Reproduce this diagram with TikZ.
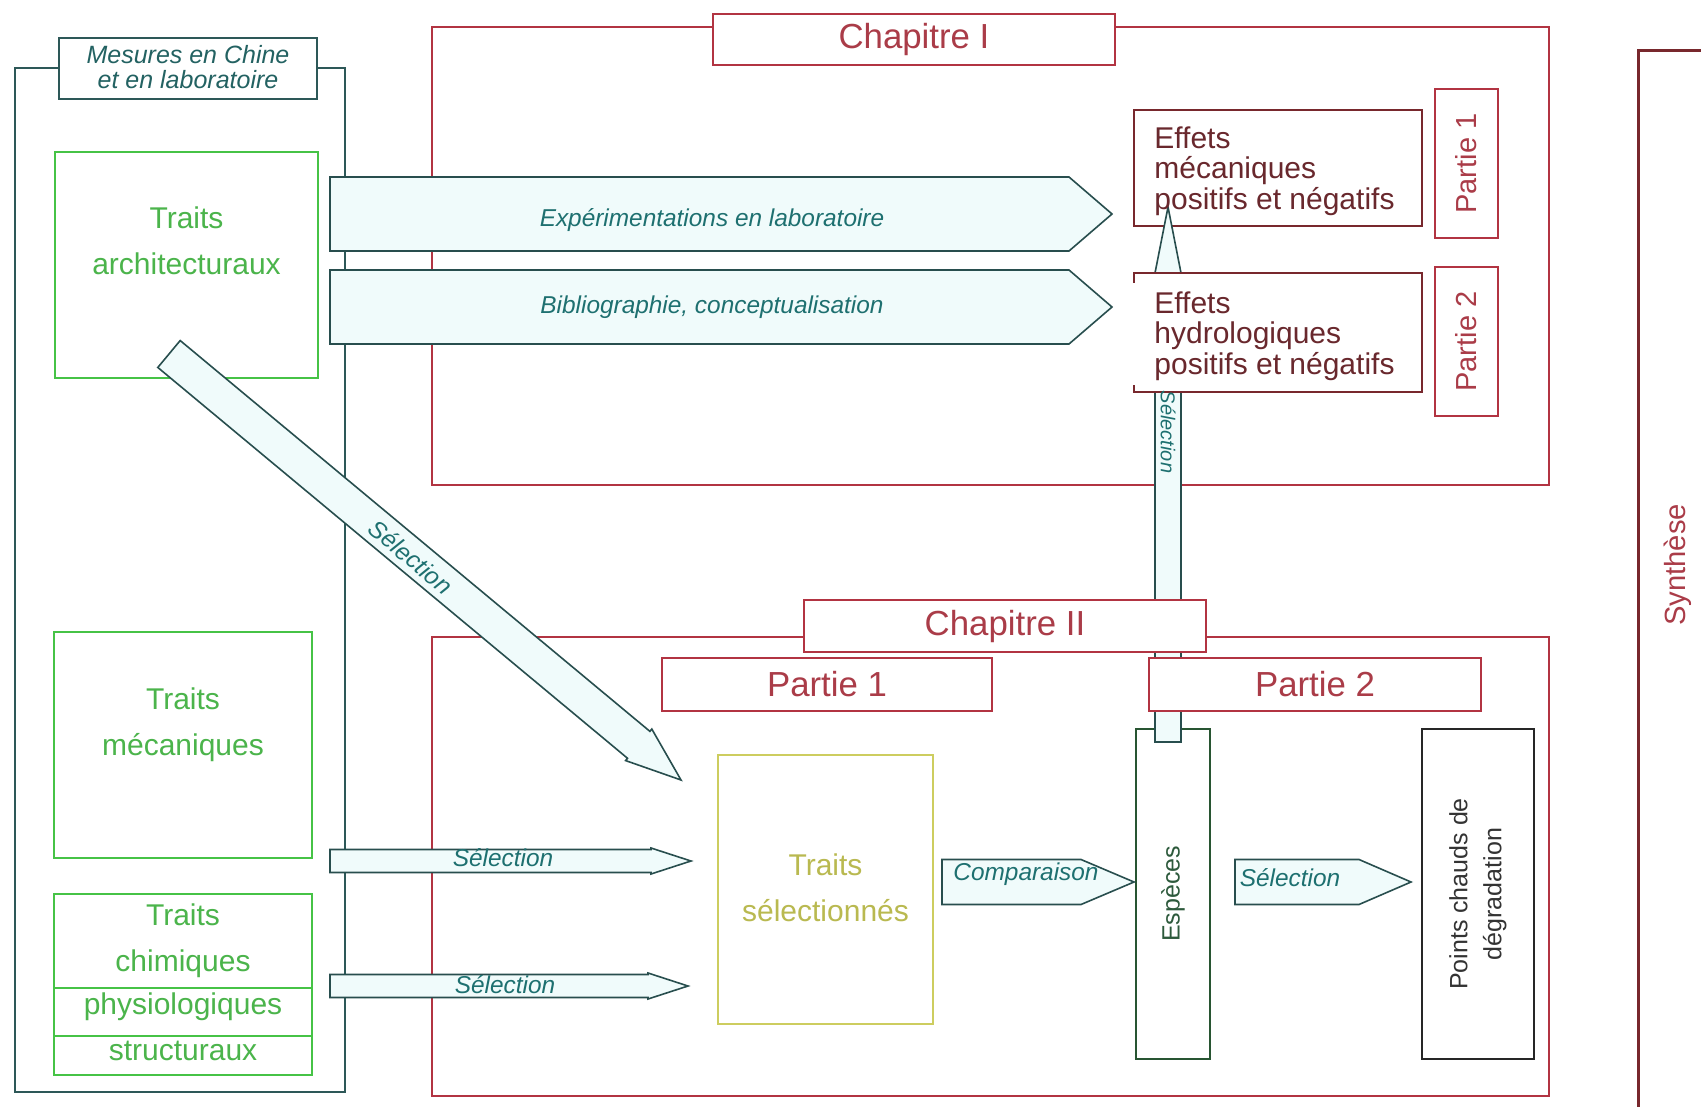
\documentclass[tikz,border=0pt]{standalone}
\usepackage{fontspec}
\setmainfont{Liberation Sans}
\usetikzlibrary{calc,fit}

\definecolor{mesteal}{RGB}{45,88,88}
\definecolor{mestxt}{RGB}{35,98,98}
\definecolor{arrline}{RGB}{40,78,78}
\definecolor{arrfill}{RGB}{240,251,251}
\definecolor{arrtext}{RGB}{30,112,112}
\definecolor{chapred}{RGB}{178,52,66}
\definecolor{chaptext}{RGB}{170,60,72}
\definecolor{effred}{RGB}{120,40,45}
\definecolor{efftxt}{RGB}{105,40,45}
\definecolor{traitgreen}{RGB}{70,195,70}
\definecolor{traittxt}{RGB}{75,180,75}
\definecolor{selolive}{RGB}{205,205,95}
\definecolor{seltxt}{RGB}{185,185,80}
\definecolor{espgreen}{RGB}{40,85,50}
\definecolor{esptxt}{RGB}{45,90,60}

\tikzset{boxline/.style={draw, line width=1pt, inner sep=0pt}}
\tikzset{mesbox/.style={boxline, draw=mesteal}}
\tikzset{chapbox/.style={boxline, draw=chapred, line width=1.2pt}}
\tikzset{chaplabel/.style={chapbox, fill=white, text=chaptext,
                           font=\fontsize{17.4}{20}\selectfont}}
\tikzset{partlabel/.style={chaplabel, font=\fontsize{14.5}{17}\selectfont}}
\tikzset{traitbox/.style={boxline, draw=traitgreen, line width=1.1pt}}
\tikzset{traittext/.style={text=traittxt, align=center, inner sep=0pt,
                           font=\fontsize{15}{23}\selectfont}}
\tikzset{effbox/.style={boxline, draw=effred, fill=white}}
\tikzset{efftext/.style={text=efftxt, align=left, inner sep=0pt,
                         font=\fontsize{15}{15.2}\selectfont}}
\tikzset{arrlabel/.style={text=arrtext, inner sep=0pt,
                          font=\fontsize{12.2}{14}\selectfont\itshape}}
% shaft half width, head half width, head length
\tikzset{blockarrow/.style n args={3}{draw=arrline, fill=arrfill, line width=0.8pt,
    to path={let \p1=(\tikztostart), \p2=(\tikztotarget) in
      ($(\p1)!#1!90:(\p2)$)
      -- ($(\p2)!#3!(\p1)!#1!-90:(\p1)$)
      -- ($(\p2)!#3!(\p1)!#2!-90:(\p1)$)
      -- (\p2)
      -- ($(\p2)!#3!(\p1)!#2!90:(\p1)$)
      -- ($(\p2)!#3!(\p1)!#1!90:(\p1)$)
      -- ($(\p1)!#1!-90:(\p2)$) -- cycle}}}

\begin{document}
\begin{tikzpicture}[x=0.5pt,y=-0.5pt]
    \clip (0,0) rectangle (1701,1107);
    \fill[white] (0,0) rectangle (1701,1107);
    % Outer frames
    \node[mesbox, fit={(15,68) (345,1092)}] (mesures) {};
    \node[chapbox, fit={(432,27) (1549,485)}] (chapI) {};
    \node[chapbox, fit={(432,637) (1549,1096)}] (chapII) {};
    \node[boxline, draw=effred, line width=1.5pt, fit={(1638,51) (1740,1140)}] (synth) {};
    \node[text=chaptext, rotate=90, font=\fontsize{14.6}{17}\selectfont] (synthtxt) at (1678,565) {Synthèse};
    % Frame labels
    \node[mesbox, fill=white, fit={(59,38) (317,99)}] (meslabel) {};
    \node[text=mestxt, align=center, inner sep=0pt,
          font=\fontsize{12.5}{12.5}\selectfont\itshape] (meslabeltxt) at (188,67)
          {Mesures en Chine\\et en laboratoire};
    \node[chaplabel, minimum width=201pt, minimum height=25.5pt] (chapIlabel) at (914,39.5) {Chapitre I};
    \node[partlabel, rotate=90, minimum width=74.5pt, minimum height=31.5pt] (partIa) at (1466.5,163.5) {Partie 1};
    \node[partlabel, rotate=90, minimum width=74.5pt, minimum height=31.5pt] (partIb) at (1466.5,341.5) {Partie 2};
    \node[chaplabel, minimum width=165pt, minimum height=26.5pt] (partIIa) at (827,684.5) {Partie 1};
    % Traits
    \node[traitbox, fit={(55,152) (318,378)}] (archi) {};
    \node[traittext] (architxt) at (186.5,241) {Traits\\architecturaux};
    \node[traitbox, fit={(54,632) (312,858)}] (meca) {};
    \node[traittext] (mecatxt) at (183,725) {Traits\\mécaniques};
    \node[traitbox, fit={(54,894) (312,1075)}] (chim) {};
    \coordinate (div1) at (54,988);
    \coordinate (div2) at (54,1036);
    \draw[traitgreen, line width=1.1pt] (div1) -- (div1 -| chim.east)
                                        (div2) -- (div2 -| chim.east);
    \node[traittext] (chimtxt) at (183,941) {Traits\\chimiques};
    \node[traittext] (physiotxt) at (183,1007) {physiologiques};
    \node[traittext] (structtxt) at (183,1051) {structuraux};
    % Chapitre II contents
    \node[boxline, draw=selolive, line width=1.1pt, fit={(718,755) (933,1024)}] (traitsel) {};
    \node[traittext, text=seltxt] (traitseltxt) at (825.5,888) {Traits\\sélectionnés};
    \node[boxline, draw=espgreen, rotate=90, minimum width=165pt, minimum height=37pt,
          text=esptxt, font=\fontsize{12.5}{15}\selectfont] (especes) at (1173,894) {Espèces};
    \node[boxline, draw=black!85, rotate=90, minimum width=165pt, minimum height=56pt,
          align=center, text=black!80, font=\fontsize{12.5}{17}\selectfont] (hotspots) at (1478,894)
          {Points chauds de\\dégradation};
    \node[effbox, fit={(1134,110) (1422,226)}] (effmec) {};
    % Block arrows
    \coordinate (expT) at (330,214);
    \coordinate (expH) at (1112,214);
    \coordinate (bibT) at (330,307);
    \coordinate (bibH) at (1112,307);
    \coordinate (diagT) at (169,354);
    \coordinate (diagH) at (681,780);
    \coordinate (selAT) at (330,861);
    \coordinate (selAH) at (691,861);
    \coordinate (selBT) at (330,986);
    \coordinate (selBH) at (688,986);
    \coordinate (compT) at (942,882);
    \coordinate (compH) at (1134,882);
    \coordinate (selPT) at (1235,882);
    \coordinate (selPH) at (1411,882);
    \coordinate (vertT) at (1168,742);
    \coordinate (vertH) at (1168,207);
    \draw[blockarrow={18.5pt}{18.5pt}{21.5pt}] (expT) to (expH);
    \draw[blockarrow={18.5pt}{18.5pt}{21.5pt}] (bibT) to (bibH);
    \draw[blockarrow={8.75pt}{10.25pt}{27.5pt}] (diagT) to (diagH);
    \draw[blockarrow={5.75pt}{6.5pt}{20pt}] (selAT) to (selAH);
    \draw[blockarrow={5.75pt}{6.5pt}{20pt}] (selBT) to (selBH);
    \draw[blockarrow={11.25pt}{11.25pt}{26.5pt}] (compT) to (compH);
    \draw[blockarrow={11.25pt}{11.25pt}{26pt}] (selPT) to (selPH);
    \draw[blockarrow={6.5pt}{6.5pt}{33pt}] (vertT) to (vertH);
    \node[efftext, anchor=west] (effmectxt) at (1154,171) {Effets\\mécaniques\\positifs et négatifs};
    % Boxes lying over the vertical arrow
    \node[fill=white, inner sep=0pt, fit={(1134,273) (1422,392)}] (effhyd) {};
    \draw[effred, line width=1pt] ($(effhyd.north west)+(0,10)$) |- (effhyd.north east)
                                  |- (effhyd.south west) -- ++(0,-7);
    \node[efftext, anchor=west] (effhydtxt) at (1154,336) {Effets\\hydrologiques\\positifs et négatifs};
    \node[chaplabel, minimum width=201pt, minimum height=26pt] (chapIIlabel) at (1005,626) {Chapitre II};
    \node[chaplabel, minimum width=166pt, minimum height=26.5pt] (partIIb) at (1315,684.5) {Partie 2};
    % Arrow labels
    \node[arrlabel] (exptxt) at (712,220) {Expérimentations en laboratoire};
    \node[arrlabel] (bibtxt) at (712,307) {Bibliographie, conceptualisation};
    \node[arrlabel, rotate=-40] (diagtxt) at (411,557) {Sélection};
    \node[arrlabel] (selAtxt) at (503,858) {Sélection};
    \node[arrlabel] (selBtxt) at (505,985) {Sélection};
    \node[arrlabel] (comptxt) at (1026,874) {Comparaison};
    \node[arrlabel] (selPtxt) at (1290,878) {Sélection};
    \node[arrlabel, rotate=-90, font=\fontsize{10}{12}\selectfont\itshape] (verttxt) at (1168,432) {Sélection};
\end{tikzpicture}
\end{document}
